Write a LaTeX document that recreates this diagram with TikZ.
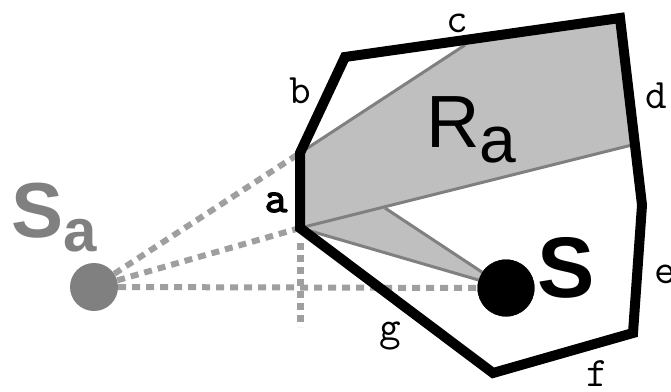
\documentclass[tikz,border=0pt]{standalone}
\usepackage{fontspec}
\setsansfont{Liberation Sans}
\newfontfamily\heavymono{Latin Modern Mono}[FakeBold=3]
\usetikzlibrary{calc}

\tikzset{
  edge/.style={line width=10pt, line join=miter},
  sight/.style={gray!75, line width=6pt, dash pattern=on 8pt off 6pt},
  ray/.style={gray, line width=3pt},
  corner/.style={font=\ttfamily\fontsize{42}{42}\selectfont, inner sep=0pt, anchor=base},
}

\begin{document}
\begin{tikzpicture}[x=1pt,y=-1pt]
  \useasboundingbox (0,0) rectangle (671,391);
  % corners of the region
  \coordinate (a1) at (300,153);
  \coordinate (b1) at (345,57);
  \coordinate (c1) at (620,18);
  \coordinate (d1) at (642,205);
  \coordinate (e1) at (633,333);
  \coordinate (f1) at (493,373);
  \coordinate (a2) at (300,228);
  % where the shadow meets the edges
  \coordinate (cc) at (465,45);
  \coordinate (dd) at (632,145);
  \coordinate (gg) at (385,208);
  \coordinate (vtop) at (300.5,243);
  \coordinate (vbot) at (300.5,327);
  % the two sources
  \node[circle, fill=black, minimum size=57pt, inner sep=0pt] (s) at (506,288) {};
  \node[circle, fill=gray, minimum size=48pt, inner sep=0pt] (sa) at (94,287) {};
  % the shadow R_a
  \fill[gray!50] (a1) -- (cc) -- (c1) -- (dd) -- (a2) -- cycle;
  \fill[gray!50] (a2) -- (gg) -- (s.center) -- cycle;
  \draw[ray] (a1) -- (cc);
  \draw[ray] (a2) -- (dd);
  \draw[ray] (gg) -- (s.center);
  \draw[ray] (a2) -- (s.center);
  % lines of sight from S_a
  \draw[sight] (sa) -- (a1);
  \draw[sight] (sa) -- (a2);
  \draw[sight] (sa.east) -- (s.west);
  \draw[sight, line width=7pt, dash pattern=on 7pt off 5pt] (vtop) -- (vbot);
  % the region
  \draw[edge] (a1) -- (b1) -- (c1) -- (d1) -- (e1) -- (f1) -- (a2) -- cycle;
  \node[circle, fill=black, minimum size=57pt, inner sep=0pt] at (s) {};
  % labels
  \node[corner, font=\heavymono\fontsize{44}{44}\selectfont] (la) at (276,212) {a};
  \node[corner] (lb) at (300,103) {b};
  \node[corner] (lc) at (457,32) {c};
  \node[corner] (ld) at (656,108) {d};
  \node[corner] (le) at (665,283) {e};
  \node[corner] (lf) at (597,386) {f};
  \node[corner] (lg) at (390,340) {g};
  \node[anchor=base west, inner sep=0pt, font=\sffamily\fontsize{74}{74}\selectfont] (lra) at (426,147) {R\raisebox{-15pt}{\fontsize{66}{66}\selectfont a}};
  \node[anchor=base west, inner sep=0pt, text=gray, font=\sffamily\bfseries\fontsize{78}{78}\selectfont] (lsa) at (11,237) {S\raisebox{-14pt}{\fontsize{60}{60}\selectfont a}};
  \node[anchor=base west, inner sep=0pt, font=\sffamily\bfseries\fontsize{86}{86}\selectfont] (ls) at (537,297) {S};
\end{tikzpicture}
\end{document}
